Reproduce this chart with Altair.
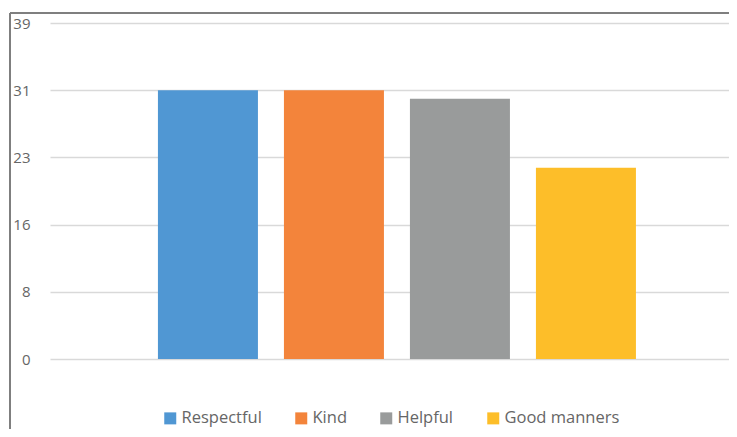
import altair as alt
import pandas as pd

categories = ["Respectful", "Kind", "Helpful", "Good manners"]
values = [31.2, 31.2, 30.2, 22.2]
colors = ["#5097D3", "#F3843B", "#999B9B", "#FDBE29"]
tick_values = [0, 7.8, 15.6, 23.4, 31.2, 39]

df = pd.DataFrame({"category": categories, "value": values})

bars = alt.Chart(df).mark_bar().encode(
    x=alt.X("category:N", sort=categories, axis=None,
            scale=alt.Scale(paddingInner=0.2063, paddingOuter=0.7976, align=0.537)),
    y=alt.Y("value:Q", scale=alt.Scale(domain=[0, 39], nice=False),
            axis=alt.Axis(values=tick_values, format=".0f", title=None,
                          domain=False, ticks=False, labelPadding=20,
                          labelFont="Open Sans", labelFontSize=15,
                          labelColor="#666666", gridColor="#D9D9D9",
                          gridWidth=1.5)),
    color=alt.Color("category:N", sort=categories,
                    scale=alt.Scale(domain=categories, range=colors),
                    legend=alt.Legend(orient="none", legendX=112, legendY=387,
                                      direction="horizontal", title=None,
                                      symbolType="square", symbolSize=144,
                                      symbolStrokeWidth=0, labelFont="Open Sans",
                                      labelFontSize=16.5, labelColor="#666666",
                                      columnPadding=31, labelOffset=3)),
)

frame_left = alt.Chart(df).mark_rule(color="#7F7F7F", strokeWidth=1.5, clip=False).encode(
    x=alt.value(-40), y=alt.value(-10), y2=alt.value(420)
)
frame_top = alt.Chart(df).mark_rule(color="#7F7F7F", strokeWidth=1.5, clip=False).encode(
    x=alt.value(-40), x2=alt.value(700), y=alt.value(-10)
)

chart = alt.layer(bars, frame_left, frame_top).properties(
    width=679, height=336,
    autosize=alt.AutoSizeParams(type="none"),
    padding={"left": 42, "top": 15, "right": 0, "bottom": 70},
).configure_view(stroke=None)

chart.save("out.html", embed_options={"renderer": "svg", "actions": False})
